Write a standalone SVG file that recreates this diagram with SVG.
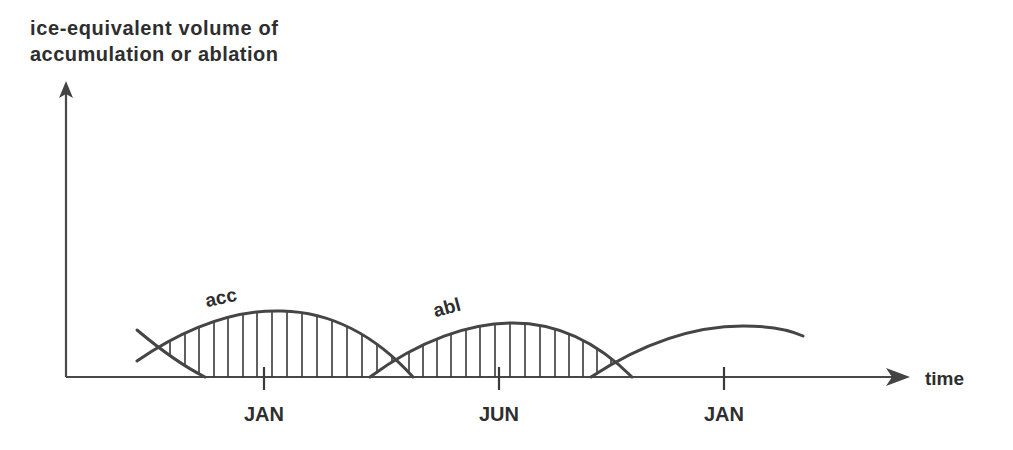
<svg xmlns="http://www.w3.org/2000/svg" width="1013" height="450" viewBox="0 0 1013 450">
  <style>
    .t { font-family: "Liberation Sans", Arial, sans-serif; font-weight: bold; fill: #2e2e2e; }
    .axis { stroke: #484848; stroke-width: 2.2; fill: none; }
    .tick { stroke: #3a3a3a; stroke-width: 2.2; }
    .curve { stroke: #454545; stroke-width: 3; fill: none; stroke-linecap: round; }
    .hatch { stroke: #3a3a3a; stroke-width: 1.6; }
    .head { fill: #444; }
  </style>
  <defs>
    <mask id="m1" maskUnits="userSpaceOnUse" x="0" y="0" width="1013" height="450">
      <path d="M137,361 C200,318 250,310 282,311 C330,312 375,335 413,377 L137,377 Z" fill="#fff"/>
      <path d="M137,330 Q175,362 205,377 L205,380 L100,380 L100,330 Z" fill="#000"/>
      <path d="M370,377 C420,340 470,323 513,323 C555,323 595,340 632,377 Z" fill="#000"/>
    </mask>
    <mask id="m2" maskUnits="userSpaceOnUse" x="0" y="0" width="1013" height="450">
      <path d="M370,377 C420,340 470,323 513,323 C555,323 595,340 632,377 Z" fill="#fff"/>
      <path d="M137,361 C200,318 250,310 282,311 C330,312 375,335 413,377 L137,377 Z" fill="#000"/>
      <path d="M591,377 C640,345 690,326 743,326 C770,326 790,330 803,336 L803,377 Z" fill="#000"/>
    </mask>
  </defs>
  <rect width="1013" height="450" fill="#fff"/>

  <g id="title">
    <text class="t" x="30" y="35" font-size="20" textLength="248" lengthAdjust="spacing">ice-equivalent volume of</text>
    <text class="t" x="30" y="61" font-size="20" textLength="248" lengthAdjust="spacing">accumulation or ablation</text>
  </g>

  <g id="axes">
    <line class="axis" x1="66" y1="377" x2="66" y2="92"/>
    <polygon class="head" points="66,81 59,98 66,94 73,98"/>
    <line class="axis" x1="66" y1="377" x2="892" y2="377"/>
    <polygon class="head" points="910,377 886,368 892,377 886,386"/>
    <text class="t" x="925" y="385" font-size="19">time</text>
  </g>

  <g id="ticks">
    <line class="tick" x1="264" y1="367" x2="264" y2="390"/>
    <line class="tick" x1="499" y1="367" x2="499" y2="390"/>
    <line class="tick" x1="724" y1="367" x2="724" y2="390"/>
    <text class="t" x="264" y="421" font-size="20" text-anchor="middle">JAN</text>
    <text class="t" x="499" y="421" font-size="20" text-anchor="middle">JUN</text>
    <text class="t" x="724" y="421" font-size="20" text-anchor="middle">JAN</text>
  </g>

  <g id="hatch-acc" mask="url(#m1)">
    <path class="hatch" d="M170,300V377 M185,300V377 M199,300V377 M214,300V377 M228,300V377 M243,300V377 M257,300V377 M272,300V377 M287,300V377 M302,300V377 M317,300V377 M332,300V377 M347,300V377 M362,300V377 M377,300V377 M392,300V377"/>
  </g>
  <g id="hatch-abl" mask="url(#m2)">
    <path class="hatch" d="M409,300V377 M423,300V377 M437,300V377 M451,300V377 M466,300V377 M480,300V377 M495,300V377 M510,300V377 M525,300V377 M540,300V377 M555,300V377 M569,300V377 M583,300V377 M597,300V377 M611,300V377"/>
  </g>

  <g id="curves">
    <path class="curve" d="M137,330 Q175,362 205,377"/>
    <path class="curve" d="M137,361 C200,318 250,310 282,311 C330,312 375,335 413,377"/>
    <path class="curve" d="M370,377 C420,340 470,323 513,323 C555,323 595,340 632,377"/>
    <path class="curve" d="M591,377 C640,345 690,326 743,326 C770,326 790,330 803,336"/>
  </g>

  <g id="curve-labels">
    <text class="t" x="221" y="304" font-size="19" text-anchor="middle" transform="rotate(-12 221 298)">acc</text>
    <text class="t" x="447" y="314" font-size="19" text-anchor="middle" transform="rotate(-15 447 308)">abl</text>
  </g>
</svg>
